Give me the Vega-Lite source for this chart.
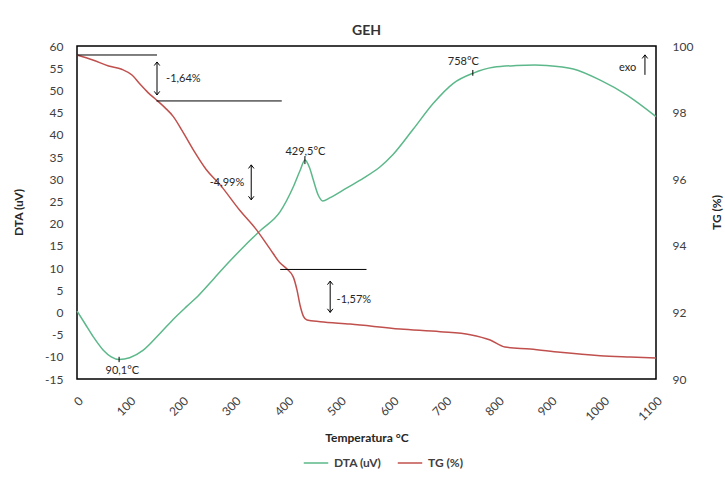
{
  "$schema": "https://vega.github.io/schema/vega-lite/v6.json",
  "width": 579,
  "height": 333,
  "autosize": "none",
  "padding": {"left": 77, "top": 46, "right": 69, "bottom": 102},
  "background": "white",
  "title": {"text": "GEH", "fontSize": 14, "fontWeight": "bold", "font": "Lato", "color": "#333333", "offset": 2, "anchor": "middle"},
  "config": {
    "view": {"stroke": "#000000", "strokeWidth": 1.5},
    "font": "Lato",
    "axis": {"grid": false, "ticks": false, "domain": false, "labelOverlap": false, "labelFont": "Lato", "labelFontSize": 12, "labelColor": "#404040", "titleFont": "Lato", "titleFontSize": 12, "titleFontWeight": "bold", "titleColor": "#262626"},
    "legend": {"orient": "none", "legendX": 226, "legendY": 404, "direction": "horizontal", "symbolType": "stroke", "symbolSize": 600, "symbolStrokeWidth": 1.5, "labelFont": "Lato", "labelFontSize": 12, "labelFontWeight": "bold", "labelColor": "#404040", "title": null, "columnPadding": 12, "labelOffset": 5}
  },
  "datasets": {
    "dta": [
      {"T": 0, "v": 0.3}, {"T": 15, "v": -2.5}, {"T": 31, "v": -5.5}, {"T": 50, "v": -8.5}, {"T": 65, "v": -10}, {"T": 80, "v": -10.6}, {"T": 100, "v": -10.2}, {"T": 126, "v": -8.5}, {"T": 158, "v": -4.7}, {"T": 185, "v": -1.3}, {"T": 208, "v": 1.3}, {"T": 230, "v": 3.7}, {"T": 260, "v": 7.6}, {"T": 290, "v": 11.5}, {"T": 320, "v": 15.2}, {"T": 350, "v": 18.6}, {"T": 386, "v": 22.7}, {"T": 411, "v": 28.3}, {"T": 424, "v": 32}, {"T": 433, "v": 34.3}, {"T": 442, "v": 32.5}, {"T": 449, "v": 29.8}, {"T": 458, "v": 26.5}, {"T": 467, "v": 25.1}, {"T": 480, "v": 25.8}, {"T": 512, "v": 28}, {"T": 545, "v": 30.3}, {"T": 576, "v": 32.8}, {"T": 600, "v": 35.5}, {"T": 639, "v": 41.3}, {"T": 677, "v": 47.1}, {"T": 715, "v": 51.6}, {"T": 753, "v": 53.9}, {"T": 791, "v": 55.2}, {"T": 835, "v": 55.6}, {"T": 870, "v": 55.7}, {"T": 892, "v": 55.6}, {"T": 943, "v": 54.8}, {"T": 994, "v": 52.3}, {"T": 1044, "v": 49}, {"T": 1100, "v": 44.1}
    ],
    "tg": [
      {"T": 0, "v": 99.73}, {"T": 30, "v": 99.58}, {"T": 60, "v": 99.4}, {"T": 85, "v": 99.3}, {"T": 105, "v": 99.12}, {"T": 120, "v": 98.85}, {"T": 135, "v": 98.6}, {"T": 151, "v": 98.38}, {"T": 167, "v": 98.15}, {"T": 183, "v": 97.88}, {"T": 200, "v": 97.45}, {"T": 221, "v": 96.88}, {"T": 245, "v": 96.3}, {"T": 272, "v": 95.83}, {"T": 310, "v": 95.05}, {"T": 340, "v": 94.5}, {"T": 367, "v": 93.9}, {"T": 385, "v": 93.5}, {"T": 399, "v": 93.3}, {"T": 411, "v": 93.06}, {"T": 418, "v": 92.67}, {"T": 424, "v": 92.2}, {"T": 430, "v": 91.89}, {"T": 437, "v": 91.77}, {"T": 462, "v": 91.72}, {"T": 519, "v": 91.65}, {"T": 614, "v": 91.5}, {"T": 690, "v": 91.42}, {"T": 747, "v": 91.33}, {"T": 785, "v": 91.17}, {"T": 813, "v": 90.96}, {"T": 861, "v": 90.9}, {"T": 918, "v": 90.8}, {"T": 994, "v": 90.7}, {"T": 1051, "v": 90.66}, {"T": 1100, "v": 90.63}
    ],
    "tgLines": [
      {"T1": 0, "T2": 152, "v": 99.73}, {"T1": 151, "T2": 389, "v": 98.35}, {"T1": 386, "T2": 550, "v": 93.29}
    ],
    "tgArrows": [
      {"T": 152, "top": 99.52, "bottom": 98.53}, {"T": 331, "top": 96.43, "bottom": 95.38}, {"T": 481, "top": 92.94, "bottom": 92.0}
    ],
    "tgLabels": [
      {"T": 202, "v": 99.0, "label": "-1,64%"}, {"T": 285, "v": 95.89, "label": "-4,99%"}, {"T": 526, "v": 92.37, "label": "-1,57%"}
    ],
    "dtaTicks": [
      {"T": 80, "y1": -10.0, "y2": -11.2}, {"T": 433, "y1": 35.2, "y2": 33.4}, {"T": 752, "y1": 54.6, "y2": 53.3}
    ],
    "dtaLabels": [
      {"T": 86, "v": -13.2, "label": "90,1°C"}, {"T": 434, "v": 36.2, "label": "429,5°C"}, {"T": 734, "v": 56.5, "label": "758°C"}, {"T": 1046, "v": 55, "label": "exo"}
    ],
    "exoArrow": [
      {"T": 1079, "top": 58.0, "bottom": 53.5}
    ]
  },
  "layer": [
    {
      "layer": [
        {
          "data": {"name": "dta"},
          "mark": {"type": "line", "strokeWidth": 1.5, "interpolate": "monotone"},
          "encoding": {
            "x": {"field": "T", "type": "quantitative", "scale": {"domain": [0, 1100], "nice": false, "zero": false},
                  "axis": {"values": [0, 100, 200, 300, 400, 500, 600, 700, 800, 900, 1000, 1100], "tickCount": 12, "labelOverlap": false, "labelExpr": "toString(datum.value)", "labelAngle": -45, "labelPadding": 16, "title": "Temperatura °C", "titleY": 58, "titleBaseline": "middle"}},
            "y": {"field": "v", "type": "quantitative", "scale": {"domain": [-15, 60], "nice": false, "zero": false},
                  "axis": {"orient": "left", "values": [-15, -10, -5, 0, 5, 10, 15, 20, 25, 30, 35, 40, 45, 50, 55, 60], "tickCount": 16, "labelOverlap": false, "labelExpr": "toString(datum.value)", "labelPadding": 14, "title": "DTA (uV)", "titleAngle": 270, "titleX": -59, "titleY": 166, "titleBaseline": "middle"}},
            "color": {"datum": "DTA (uV)", "type": "nominal", "scale": {"domain": ["DTA (uV)", "TG (%)"], "range": ["#5cb88a", "#c0504d"]}}
          }
        },
        {
          "data": {"name": "dtaTicks"},
          "mark": {"type": "rule", "color": "#000000", "strokeWidth": 1},
          "encoding": {
            "x": {"field": "T", "type": "quantitative", "scale": {"domain": [0, 1100], "nice": false, "zero": false}},
            "y": {"field": "y1", "type": "quantitative", "scale": {"domain": [-15, 60], "nice": false, "zero": false}},
            "y2": {"field": "y2"}
          }
        },
        {
          "data": {"name": "exoArrow"},
          "mark": {"type": "rule", "color": "#000000", "strokeWidth": 1},
          "encoding": {
            "x": {"field": "T", "type": "quantitative", "scale": {"domain": [0, 1100], "nice": false, "zero": false}},
            "y": {"field": "top", "type": "quantitative", "scale": {"domain": [-15, 60], "nice": false, "zero": false}},
            "y2": {"field": "bottom"}
          }
        },
        {
          "data": {"name": "exoArrow"},
          "mark": {"type": "point", "shape": "M-1,1.3L0,0L1,1.3", "filled": false, "stroke": "#000000", "strokeWidth": 1, "size": 30, "opacity": 1},
          "encoding": {
            "x": {"field": "T", "type": "quantitative", "scale": {"domain": [0, 1100], "nice": false, "zero": false}},
            "y": {"field": "top", "type": "quantitative", "scale": {"domain": [-15, 60], "nice": false, "zero": false}}
          }
        },
        {
          "data": {"name": "dtaLabels"},
          "mark": {"type": "text", "font": "Lato", "fontSize": 11, "color": "#262626", "align": "center", "baseline": "middle"},
          "encoding": {
            "x": {"field": "T", "type": "quantitative", "scale": {"domain": [0, 1100], "nice": false, "zero": false}},
            "y": {"field": "v", "type": "quantitative", "scale": {"domain": [-15, 60], "nice": false, "zero": false}},
            "text": {"field": "label"}
          }
        }
      ]
    },
    {
      "layer": [
        {
          "data": {"name": "tg"},
          "mark": {"type": "line", "strokeWidth": 1.5, "interpolate": "monotone"},
          "encoding": {
            "x": {"field": "T", "type": "quantitative", "scale": {"domain": [0, 1100], "nice": false, "zero": false}},
            "y": {"field": "v", "type": "quantitative", "scale": {"domain": [90, 100], "nice": false, "zero": false},
                  "axis": {"orient": "right", "values": [90, 92, 94, 96, 98, 100], "tickCount": 6, "labelOverlap": false, "labelPadding": 16, "title": "TG (%)", "titleAngle": -90, "titleX": 60, "titleY": 166, "titleBaseline": "middle"}},
            "color": {"datum": "TG (%)", "type": "nominal"}
          }
        },
        {
          "data": {"name": "tgLines"},
          "mark": {"type": "rule", "color": "#000000", "strokeWidth": 1},
          "encoding": {
            "x": {"field": "T1", "type": "quantitative", "scale": {"domain": [0, 1100], "nice": false, "zero": false}},
            "x2": {"field": "T2"},
            "y": {"field": "v", "type": "quantitative", "scale": {"domain": [90, 100], "nice": false, "zero": false}}
          }
        },
        {
          "data": {"name": "tgArrows"},
          "mark": {"type": "rule", "color": "#000000", "strokeWidth": 1},
          "encoding": {
            "x": {"field": "T", "type": "quantitative", "scale": {"domain": [0, 1100], "nice": false, "zero": false}},
            "y": {"field": "top", "type": "quantitative", "scale": {"domain": [90, 100], "nice": false, "zero": false}},
            "y2": {"field": "bottom"}
          }
        },
        {
          "data": {"name": "tgArrows"},
          "mark": {"type": "point", "shape": "M-1,1.3L0,0L1,1.3", "filled": false, "stroke": "#000000", "strokeWidth": 1, "size": 30, "opacity": 1},
          "encoding": {
            "x": {"field": "T", "type": "quantitative", "scale": {"domain": [0, 1100], "nice": false, "zero": false}},
            "y": {"field": "top", "type": "quantitative", "scale": {"domain": [90, 100], "nice": false, "zero": false}}
          }
        },
        {
          "data": {"name": "tgArrows"},
          "mark": {"type": "point", "shape": "M-1,-1.3L0,0L1,-1.3", "filled": false, "stroke": "#000000", "strokeWidth": 1, "size": 30, "opacity": 1},
          "encoding": {
            "x": {"field": "T", "type": "quantitative", "scale": {"domain": [0, 1100], "nice": false, "zero": false}},
            "y": {"field": "bottom", "type": "quantitative", "scale": {"domain": [90, 100], "nice": false, "zero": false}}
          }
        },
        {
          "data": {"name": "tgLabels"},
          "mark": {"type": "text", "font": "Lato", "fontSize": 11, "color": "#262626", "align": "center", "baseline": "middle"},
          "encoding": {
            "x": {"field": "T", "type": "quantitative", "scale": {"domain": [0, 1100], "nice": false, "zero": false}},
            "y": {"field": "v", "type": "quantitative", "scale": {"domain": [90, 100], "nice": false, "zero": false}},
            "text": {"field": "label"}
          }
        }
      ]
    }
  ],
  "resolve": {"scale": {"y": "independent"}}
}
